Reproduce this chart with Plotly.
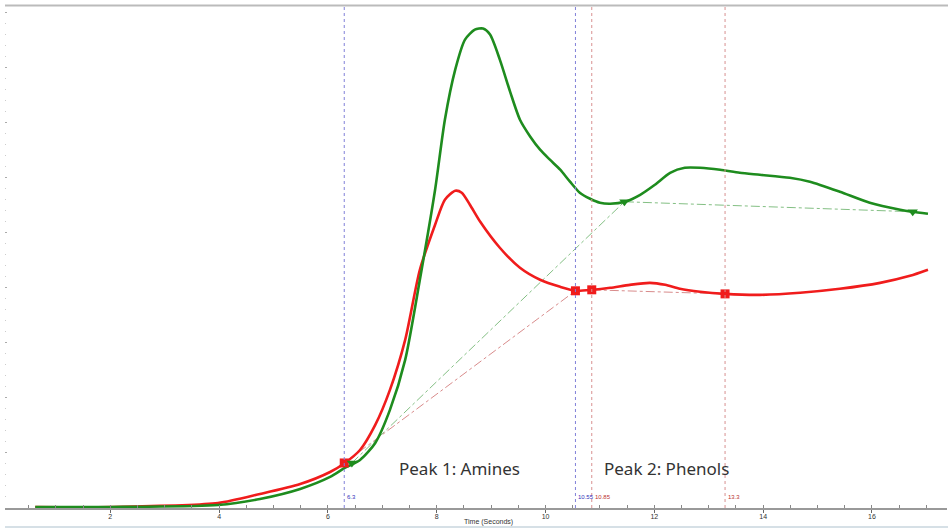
import plotly.graph_objects as go

# ---- data (time in seconds, signal in arbitrary units) ----
green_t = [0.62, 1.99, 3.98, 4.75, 5.49, 6.04, 6.31, 6.59, 6.87, 7.14, 7.42, 7.69, 7.97, 8.15, 8.34, 8.52,
           8.70, 8.85, 8.98, 9.16, 9.35, 9.53, 9.72, 9.90, 10.08, 10.27, 10.45, 10.63, 10.82, 11.0, 11.19,
           11.46, 11.74, 12.01, 12.29, 12.56, 12.84, 13.21, 13.57, 13.94, 14.49, 14.86, 15.41, 15.96, 16.52,
           16.74, 17.03]
green_v = [0.09, 0.09, 0.27, 0.82, 1.73, 2.82, 3.64, 4.36, 5.91, 8.91, 13.45, 20.73, 28.91, 35.27, 39.82, 42.55,
           43.45, 43.55, 43.0, 40.73, 37.8, 35.27, 33.73, 32.55, 31.64, 30.73, 29.64, 28.64, 28.09, 27.73, 27.64,
           27.82, 28.45, 29.36, 30.45, 30.91, 30.91, 30.73, 30.45, 30.27, 30.0, 29.64, 28.73, 27.73, 27.09,
           26.91, 26.73]

red_t = [0.62, 1.99, 3.98, 4.75, 5.49, 6.04, 6.31, 6.59, 6.87, 7.14, 7.42, 7.69, 7.97, 8.15, 8.34, 8.46,
         8.61, 8.80, 9.16, 9.53, 9.90, 10.27, 10.56, 10.87, 11.19, 11.55, 11.92, 12.20, 12.47, 12.84, 13.30,
         13.94, 14.68, 15.41, 16.15, 16.70, 17.03]
red_v = [0.09, 0.09, 0.45, 1.27, 2.18, 3.27, 4.09, 5.27, 7.55, 10.73, 15.27, 21.64, 25.73, 28.0, 28.82, 28.64,
         27.55, 26.0, 23.64, 21.82, 20.73, 20.09, 19.73, 19.82, 20.0, 20.27, 20.45, 20.27, 19.91, 19.64, 19.45,
         19.36, 19.55, 19.91, 20.45, 21.09, 21.64]

red_marker_t = [6.3, 10.55, 10.85, 13.3]
red_marker_v = [4.09, 19.73, 19.82, 19.45]
green_marker_t = [6.44, 11.45, 16.75]
green_marker_v = [4.09, 27.82, 26.91]

cursor_t = [6.3, 10.55, 10.85, 13.3]
cursor_labels = ["6.3", "10.55", "10.85", "13.3"]
cursor_colors = ["#8080d8", "#8080d8", "#d89090", "#d89090"]
cursor_text_colors = ["#3333bb", "#3333bb", "#bb3333", "#bb3333"]

peak_labels = ["Peak 1: Amines", "Peak 2: Phenols"]
peak_t = [8.41, 12.23]
peak_v = [3.55, 3.55]

x_ticks = [2, 4, 6, 8, 10, 12, 14, 16]

GREEN = "#1e8c1e"
RED = "#f01c1c"

fig = go.Figure()

# baseline (dash-dot) segments
fig.add_trace(go.Scatter(x=[red_marker_t[0], red_marker_t[1]], y=[red_marker_v[0], red_marker_v[1]],
                         mode="lines", line=dict(color="rgba(200,90,90,0.7)", width=1, dash="dashdot"),
                         hoverinfo="skip"))
fig.add_trace(go.Scatter(x=[red_marker_t[2], red_marker_t[3]], y=[red_marker_v[2], red_marker_v[3]],
                         mode="lines", line=dict(color="rgba(200,90,90,0.7)", width=1, dash="dashdot"),
                         hoverinfo="skip"))
fig.add_trace(go.Scatter(x=green_marker_t, y=green_marker_v,
                         mode="lines", line=dict(color="rgba(90,170,90,0.75)", width=1, dash="dashdot"),
                         hoverinfo="skip"))

# main curves
fig.add_trace(go.Scatter(x=red_t, y=red_v, mode="lines",
                         line=dict(color=RED, width=2.6, shape="spline", smoothing=0.7), hoverinfo="skip"))
fig.add_trace(go.Scatter(x=green_t, y=green_v, mode="lines",
                         line=dict(color=GREEN, width=2.6, shape="spline", smoothing=0.7), hoverinfo="skip"))

# markers
fig.add_trace(go.Scatter(x=red_marker_t, y=red_marker_v, mode="markers",
                         marker=dict(symbol="square", color=RED, size=9), hoverinfo="skip"))
fig.add_trace(go.Scatter(x=green_marker_t, y=green_marker_v, mode="markers",
                         marker=dict(symbol="triangle-down", color=GREEN, size=9), hoverinfo="skip"))

shapes = []
annotations = []
for t, lab, col, tcol in zip(cursor_t, cursor_labels, cursor_colors, cursor_text_colors):
    shapes.append(dict(type="line", xref="x", yref="paper", x0=t, x1=t, y0=0, y1=1,
                       line=dict(color=col, width=1, dash="dot")))
    annotations.append(dict(x=t, y=0.022, xref="x", yref="paper", text=lab, showarrow=False,
                            xanchor="left", yanchor="middle", xshift=1,
                            font=dict(size=6, color=tcol, family="Liberation Sans")))

for lab, t, v in zip(peak_labels, peak_t, peak_v):
    annotations.append(dict(x=t, y=v, xref="x", yref="y", text=lab, showarrow=False,
                            xanchor="center", yanchor="middle",
                            font=dict(size=17, color="#333333", family="Noto Sans")))

annotations.append(dict(x=0.513, y=-0.028, xref="paper", yref="paper", text="Time (Seconds)",
                        showarrow=False, xanchor="center", yanchor="middle",
                        font=dict(size=7, color="#333333", family="Liberation Sans")))

# top border and bottom light rule
shapes.append(dict(type="line", xref="paper", yref="paper", x0=0, x1=1.002, y0=1.001, y1=1.001,
                   line=dict(color="#bbbbbb", width=2)))
shapes.append(dict(type="line", xref="paper", yref="paper", x0=0, x1=1.002, y0=-0.038, y1=-0.038,
                   line=dict(color="#c9d6de", width=1.5)))

fig.update_layout(
    width=948, height=528,
    margin=dict(l=5, r=1, t=6, b=20),
    paper_bgcolor="white", plot_bgcolor="white",
    showlegend=False,
    shapes=shapes, annotations=annotations,
    xaxis=dict(range=[0.064, 17.38], showgrid=False, zeroline=False,
               showline=True, linecolor="#999999", linewidth=2,
               tickmode="array", tickvals=x_ticks, ticktext=[str(v) for v in x_ticks],
               ticks="outside", ticklen=3, tickcolor="#666666", tickwidth=1,
               ticklabelstandoff=-2,
               tickfont=dict(size=7, color="#333333", family="Liberation Sans"),
               minor=dict(dtick=0.5, tick0=0, ticks="inside", ticklen=3, tickcolor="#888888", tickwidth=1)),
    yaxis=dict(range=[0, 45.6], showgrid=False, zeroline=False, showline=False,
               showticklabels=False, tick0=0, dtick=5,
               ticks="inside", ticklen=2, tickcolor="#aaaaaa", tickwidth=1,
               minor=dict(dtick=1, tick0=0, ticks="inside", ticklen=1, tickcolor="#cccccc", tickwidth=1)),
    hovermode=False,
)

fig.write_html("out.html", config={"displayModeBar": False},
               post_script="document.body.style.margin='0';document.body.style.overflow='hidden';")
